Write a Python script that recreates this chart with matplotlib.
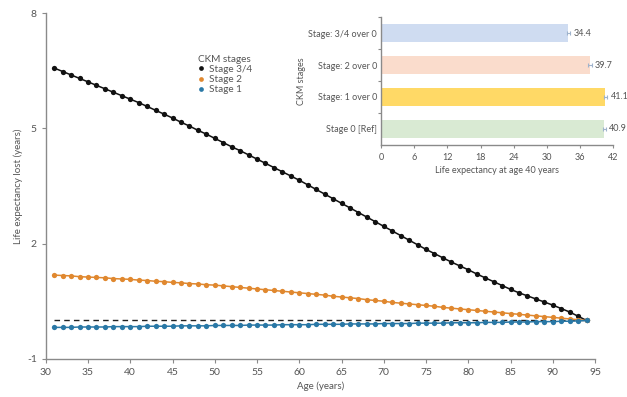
import matplotlib
matplotlib.use("Agg")
import matplotlib.pyplot as plt
from matplotlib.lines import Line2D

plt.rcParams['font.family'] = ['Lato', 'DejaVu Sans']
plt.rcParams['axes.unicode_minus'] = False

# ---------------- data ----------------
ages = list(range(31, 95))

stage34 = [6.57, 6.48, 6.39, 6.30, 6.21, 6.12, 6.03, 5.94, 5.85, 5.76,
           5.67, 5.57, 5.47, 5.37, 5.27, 5.16, 5.06, 4.95, 4.85, 4.74,
           4.63, 4.52, 4.42, 4.31, 4.20, 4.09, 3.98, 3.87, 3.76, 3.65,
           3.53, 3.41, 3.29, 3.17, 3.05, 2.93, 2.81, 2.69, 2.57, 2.45,
           2.33, 2.21, 2.09, 1.97, 1.85, 1.74, 1.63, 1.52, 1.42, 1.32,
           1.21, 1.11, 1.01, 0.91, 0.81, 0.72, 0.64, 0.56, 0.48, 0.40,
           0.31, 0.22, 0.11, 0.00]

stage2 = [1.18, 1.17, 1.16, 1.14, 1.13, 1.12, 1.11, 1.09, 1.08, 1.07,
          1.05, 1.04, 1.02, 1.01, 0.99, 0.98, 0.96, 0.95, 0.93, 0.92,
          0.90, 0.88, 0.86, 0.84, 0.82, 0.80, 0.78, 0.76, 0.74, 0.72,
          0.70, 0.68, 0.66, 0.63, 0.61, 0.59, 0.57, 0.54, 0.52, 0.50,
          0.47, 0.45, 0.43, 0.41, 0.39, 0.37, 0.34, 0.32, 0.30, 0.28,
          0.26, 0.24, 0.22, 0.20, 0.18, 0.16, 0.14, 0.12, 0.10, 0.08,
          0.06, 0.04, 0.02, 0.00]

stage1 = [-0.18, -0.18, -0.18, -0.17, -0.17, -0.17, -0.17, -0.16, -0.16, -0.16,
          -0.16, -0.15, -0.15, -0.15, -0.15, -0.14, -0.14, -0.14, -0.14, -0.13,
          -0.13, -0.13, -0.13, -0.12, -0.12, -0.12, -0.12, -0.11, -0.11, -0.11,
          -0.11, -0.10, -0.10, -0.10, -0.10, -0.09, -0.09, -0.09, -0.09, -0.08,
          -0.08, -0.08, -0.08, -0.07, -0.07, -0.07, -0.07, -0.06, -0.06, -0.06,
          -0.06, -0.05, -0.05, -0.05, -0.04, -0.04, -0.04, -0.03, -0.03, -0.03,
          -0.02, -0.02, -0.01, 0.00]

series_names = ["Stage 3/4", "Stage 2", "Stage 1"]
series_colors = ["#111111", "#e0882f", "#2a78a6"]

x_ticks = [30, 35, 40, 45, 50, 55, 60, 65, 70, 75, 80, 85, 90, 95]
y_ticks = [-1, 2, 5, 8]

# inset bar chart (bottom to top)
bar_categories = ["Stage 0 [Ref]", "Stage: 1 over 0", "Stage: 2 over 0", "Stage: 3/4 over 0"]
bar_values = [40.4, 40.6, 37.8, 33.9]
bar_labels = ["40.9", "41.1", "39.7", "34.4"]
bar_err = [0.3, 0.3, 0.3, 0.3]
bar_colors = ["#d9ead3", "#ffd966", "#fadccc", "#cfdcf1"]
bar_ticks = [0, 6, 12, 18, 24, 30, 36, 42]

# ---------------- figure ----------------
TXT = "#555555"
SPN = "#8a8a8a"

fig = plt.figure(figsize=(6.27, 3.97), dpi=100)
ax = fig.add_axes([0.073, 0.096, 0.876, 0.871])

ax.hlines(0, 31, 94, colors="#222222", linestyles=(0, (4, 3)), linewidth=1.0, zorder=1)
for vals, name, col in zip([stage34, stage2, stage1], series_names, series_colors):
    ax.plot(ages, vals, color=col, linewidth=1.1, marker="o", markersize=3.8,
            markeredgewidth=0, label=name, zorder=3)

ax.set_xlim(30, 95)
ax.set_ylim(-1, 8)
ax.set_xticks(x_ticks)
ax.set_yticks(y_ticks)
for s in ["top", "right"]:
    ax.spines[s].set_visible(False)
for s in ["left", "bottom"]:
    ax.spines[s].set_color(SPN)
    ax.spines[s].set_linewidth(1.0)
ax.tick_params(colors=SPN, labelcolor=TXT, labelsize=7.5, length=3, width=0.8)
ax.set_xlabel("Age (years)", fontsize=7, color=TXT, labelpad=3)
ax.set_ylabel("Life expectancy lost (years)", fontsize=7, color=TXT, labelpad=3)

handles = [Line2D([], [], linestyle="none", marker="o", markersize=3.4,
                  markeredgewidth=0, color=c) for c in series_colors]
leg = fig.legend(handles, series_names, title="CKM stages", loc="upper left",
                 bbox_to_anchor=(0.305, 0.88), frameon=False, fontsize=7.2,
                 title_fontsize=7.2, handlelength=0.6, handletextpad=0.5,
                 labelspacing=0.12, borderpad=0.2)
leg._legend_box.align = "left"
for t in leg.get_texts():
    t.set_color(TXT)
leg.get_title().set_color(TXT)

# ---------------- inset ----------------
ins = fig.add_axes([0.608, 0.635, 0.370, 0.322])
ypos = list(range(len(bar_categories)))
ins.barh(ypos, bar_values, height=0.58, color=bar_colors, xerr=bar_err,
         error_kw=dict(ecolor="#9fb3cc", elinewidth=0.8, capsize=1.2, capthick=0.8))
for y, v, lab in zip(ypos, bar_values, bar_labels):
    ins.text(v + 0.9, y, lab, fontsize=6.5, color=TXT, va="center", ha="left", clip_on=False)
ins.set_xlim(0, 42)
ins.set_ylim(-0.5, 3.5)
ins.set_xticks(bar_ticks)
ins.set_yticks(ypos)
ins.set_yticklabels(bar_categories)
ins.set_yticks([0.5, 1.5, 2.5, 3.5], minor=True)
ins.tick_params(axis="y", which="major", length=0, labelsize=6.5, labelcolor=TXT, pad=3)
ins.tick_params(axis="y", which="minor", length=2.5, color=SPN, width=0.8)
ins.tick_params(axis="x", colors=SPN, labelcolor=TXT, labelsize=6.5, length=2.5, width=0.8)
for s in ["top", "right"]:
    ins.spines[s].set_visible(False)
for s in ["left", "bottom"]:
    ins.spines[s].set_color(SPN)
    ins.spines[s].set_linewidth(1.0)
ins.set_xlabel("Life expectancy at age 40 years", fontsize=6.5, color=TXT, labelpad=3)
ins.set_ylabel("CKM stages", fontsize=6.5, color=TXT, labelpad=2)

fig.savefig("out.png", dpi=100)
